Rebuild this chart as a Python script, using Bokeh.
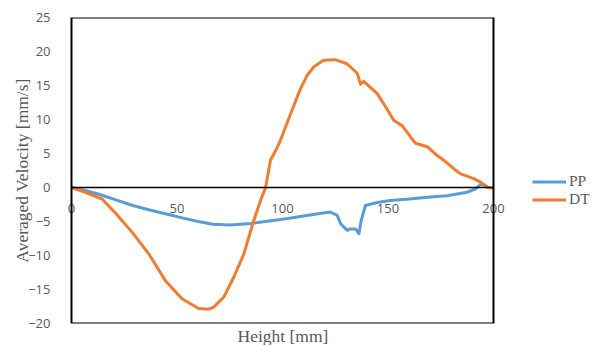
from bokeh.plotting import figure
from bokeh.models import Legend, LegendItem, FixedTicker, Title, BoxAnnotation, Range1d
from bokeh.embed import file_html
from bokeh.resources import INLINE

# Data
pp_x = [0, 6, 13, 20, 29, 37, 45, 53, 60, 67, 75, 85, 92, 99, 104, 110, 116,
        122.7, 125.9, 127.5, 129, 130.7, 132.2, 134.6, 136.2, 137.3, 139.3,
        145, 151, 160, 170, 178, 187.5, 191.5, 194, 196, 197]
pp_y = [0, -0.4, -1.0, -1.7, -2.65, -3.3, -3.9, -4.5, -5.0, -5.4, -5.5, -5.3,
        -5.0, -4.7, -4.5, -4.2, -3.9, -3.6, -4.1, -5.3, -5.8, -6.3, -6.1, -6.1,
        -6.8, -4.85, -2.65, -2.2, -1.9, -1.7, -1.4, -1.2, -0.7, -0.2, 0.5, 0.3, 0.05]

dt_x = [0, 6.6, 14.5, 20.9, 28.8, 36.6, 44.5, 52.5, 60.3, 65, 67.4, 72.2, 76.9,
        81.7, 86.4, 89.6, 92, 94.3, 96.7, 99, 103.8, 108.5, 111.7, 115, 119.5,
        125, 130.6, 135.4, 137, 138.5, 144.9, 149, 152.8, 156.7, 163, 168.6,
        173.3, 176.5, 181, 184.4, 190.7, 193.8, 197.3, 200]
dt_y = [0, -0.7, -1.7, -3.8, -6.6, -9.75, -13.7, -16.4, -17.8, -17.9, -17.6,
        -16.1, -13.2, -9.75, -4.85, -1.9, 0, 4.0, 5.4, 6.9, 10.8, 14.5, 16.5,
        17.8, 18.7, 18.8, 18.2, 16.8, 15.2, 15.6, 13.8, 11.8, 9.85, 9.1, 6.5,
        6.0, 4.7, 4.0, 2.8, 2.0, 1.3, 0.8, 0, -0.1]

x_ticks = [0, 50, 100, 150, 200]
y_ticks = [-20, -15, -10, -5, 0, 5, 10, 15, 20, 25]

# The frame is widened beyond the drawn box (box drawn separately) so that the
# end tick labels and the legend sit inside the frame and are not clipped.
pad_left = 4.265
pad_right = 46.92
p = figure(width=592, height=345, output_backend="svg", toolbar_location=None,
           x_range=Range1d(x_ticks[0] - pad_left, x_ticks[-1] + pad_right),
           y_range=Range1d(y_ticks[0], y_ticks[-1]),
           min_border_left=62, min_border_right=0, min_border_top=17,
           min_border_bottom=22)
p.background_fill_color = "white"
p.border_fill_color = "white"
p.outline_line_color = None
p.xgrid.visible = False
p.ygrid.visible = False

tick_font = "Open Sans"
# x axis at y = 0
xa = p.xaxis[0]
xa.ticker = FixedTicker(ticks=x_ticks)
xa.fixed_location = 0
xa.axis_line_color = None
xa.major_tick_line_color = None
xa.minor_tick_line_color = None
xa.major_label_text_font = tick_font
xa.major_label_text_font_size = "13px"
xa.major_label_text_color = "#595959"
xa.major_label_standoff = 10

ya = p.yaxis[0]
ya.ticker = FixedTicker(ticks=y_ticks)
ya.axis_line_color = None
ya.major_tick_line_color = None
ya.minor_tick_line_color = None
ya.major_label_text_font = tick_font
ya.major_label_text_font_size = "13px"
ya.major_label_text_color = "#595959"
ya.major_label_standoff = 6
ya.axis_label = "Averaged Velocity [mm/s]"
ya.axis_label_text_font = "Liberation Serif"
ya.axis_label_text_font_style = "normal"
ya.axis_label_text_font_size = "17.5px"
ya.axis_label_text_color = "#595959"
ya.axis_label_standoff = -7

xt = Title(text="Height [mm]", align="left", offset=175,
           text_font="Liberation Serif",
           text_font_size="17.5px", text_font_style="normal", text_color="#595959",
           standoff=0)
p.add_layout(xt, "below")

r_pp = p.line(pp_x, pp_y, line_color="#5B9BD5", line_width=3, line_join="round")
r_dt = p.line(dt_x, dt_y, line_color="#ED7D31", line_width=3, line_join="round")

# zero line and plot box
p.segment(x0=x_ticks[0], y0=0, x1=x_ticks[-1], y1=0, line_color="black", line_width=1.5)
box = BoxAnnotation(left=x_ticks[0], right=x_ticks[-1], bottom=y_ticks[0], top=y_ticks[-1],
                    fill_alpha=0, line_color="black", line_alpha=1, line_width=2)
p.add_layout(box)

legend_style = dict(padding=0, margin=0, spacing=0,
                    glyph_width=34, glyph_height=13, label_standoff=3,
                    label_text_font="Liberation Serif", label_text_font_size="15.5px",
                    label_text_color="#595959", border_line_color=None,
                    background_fill_alpha=0)
legend_pp = Legend(items=[LegendItem(label="PP", renderers=[r_pp])],
                   location=(470, 133), **legend_style)
legend_dt = Legend(items=[LegendItem(label="DT", renderers=[r_dt])],
                   location=(470, 115), **legend_style)
p.add_layout(legend_pp, "center")
p.add_layout(legend_dt, "center")

open("out.html", "w").write(file_html(p, INLINE))
